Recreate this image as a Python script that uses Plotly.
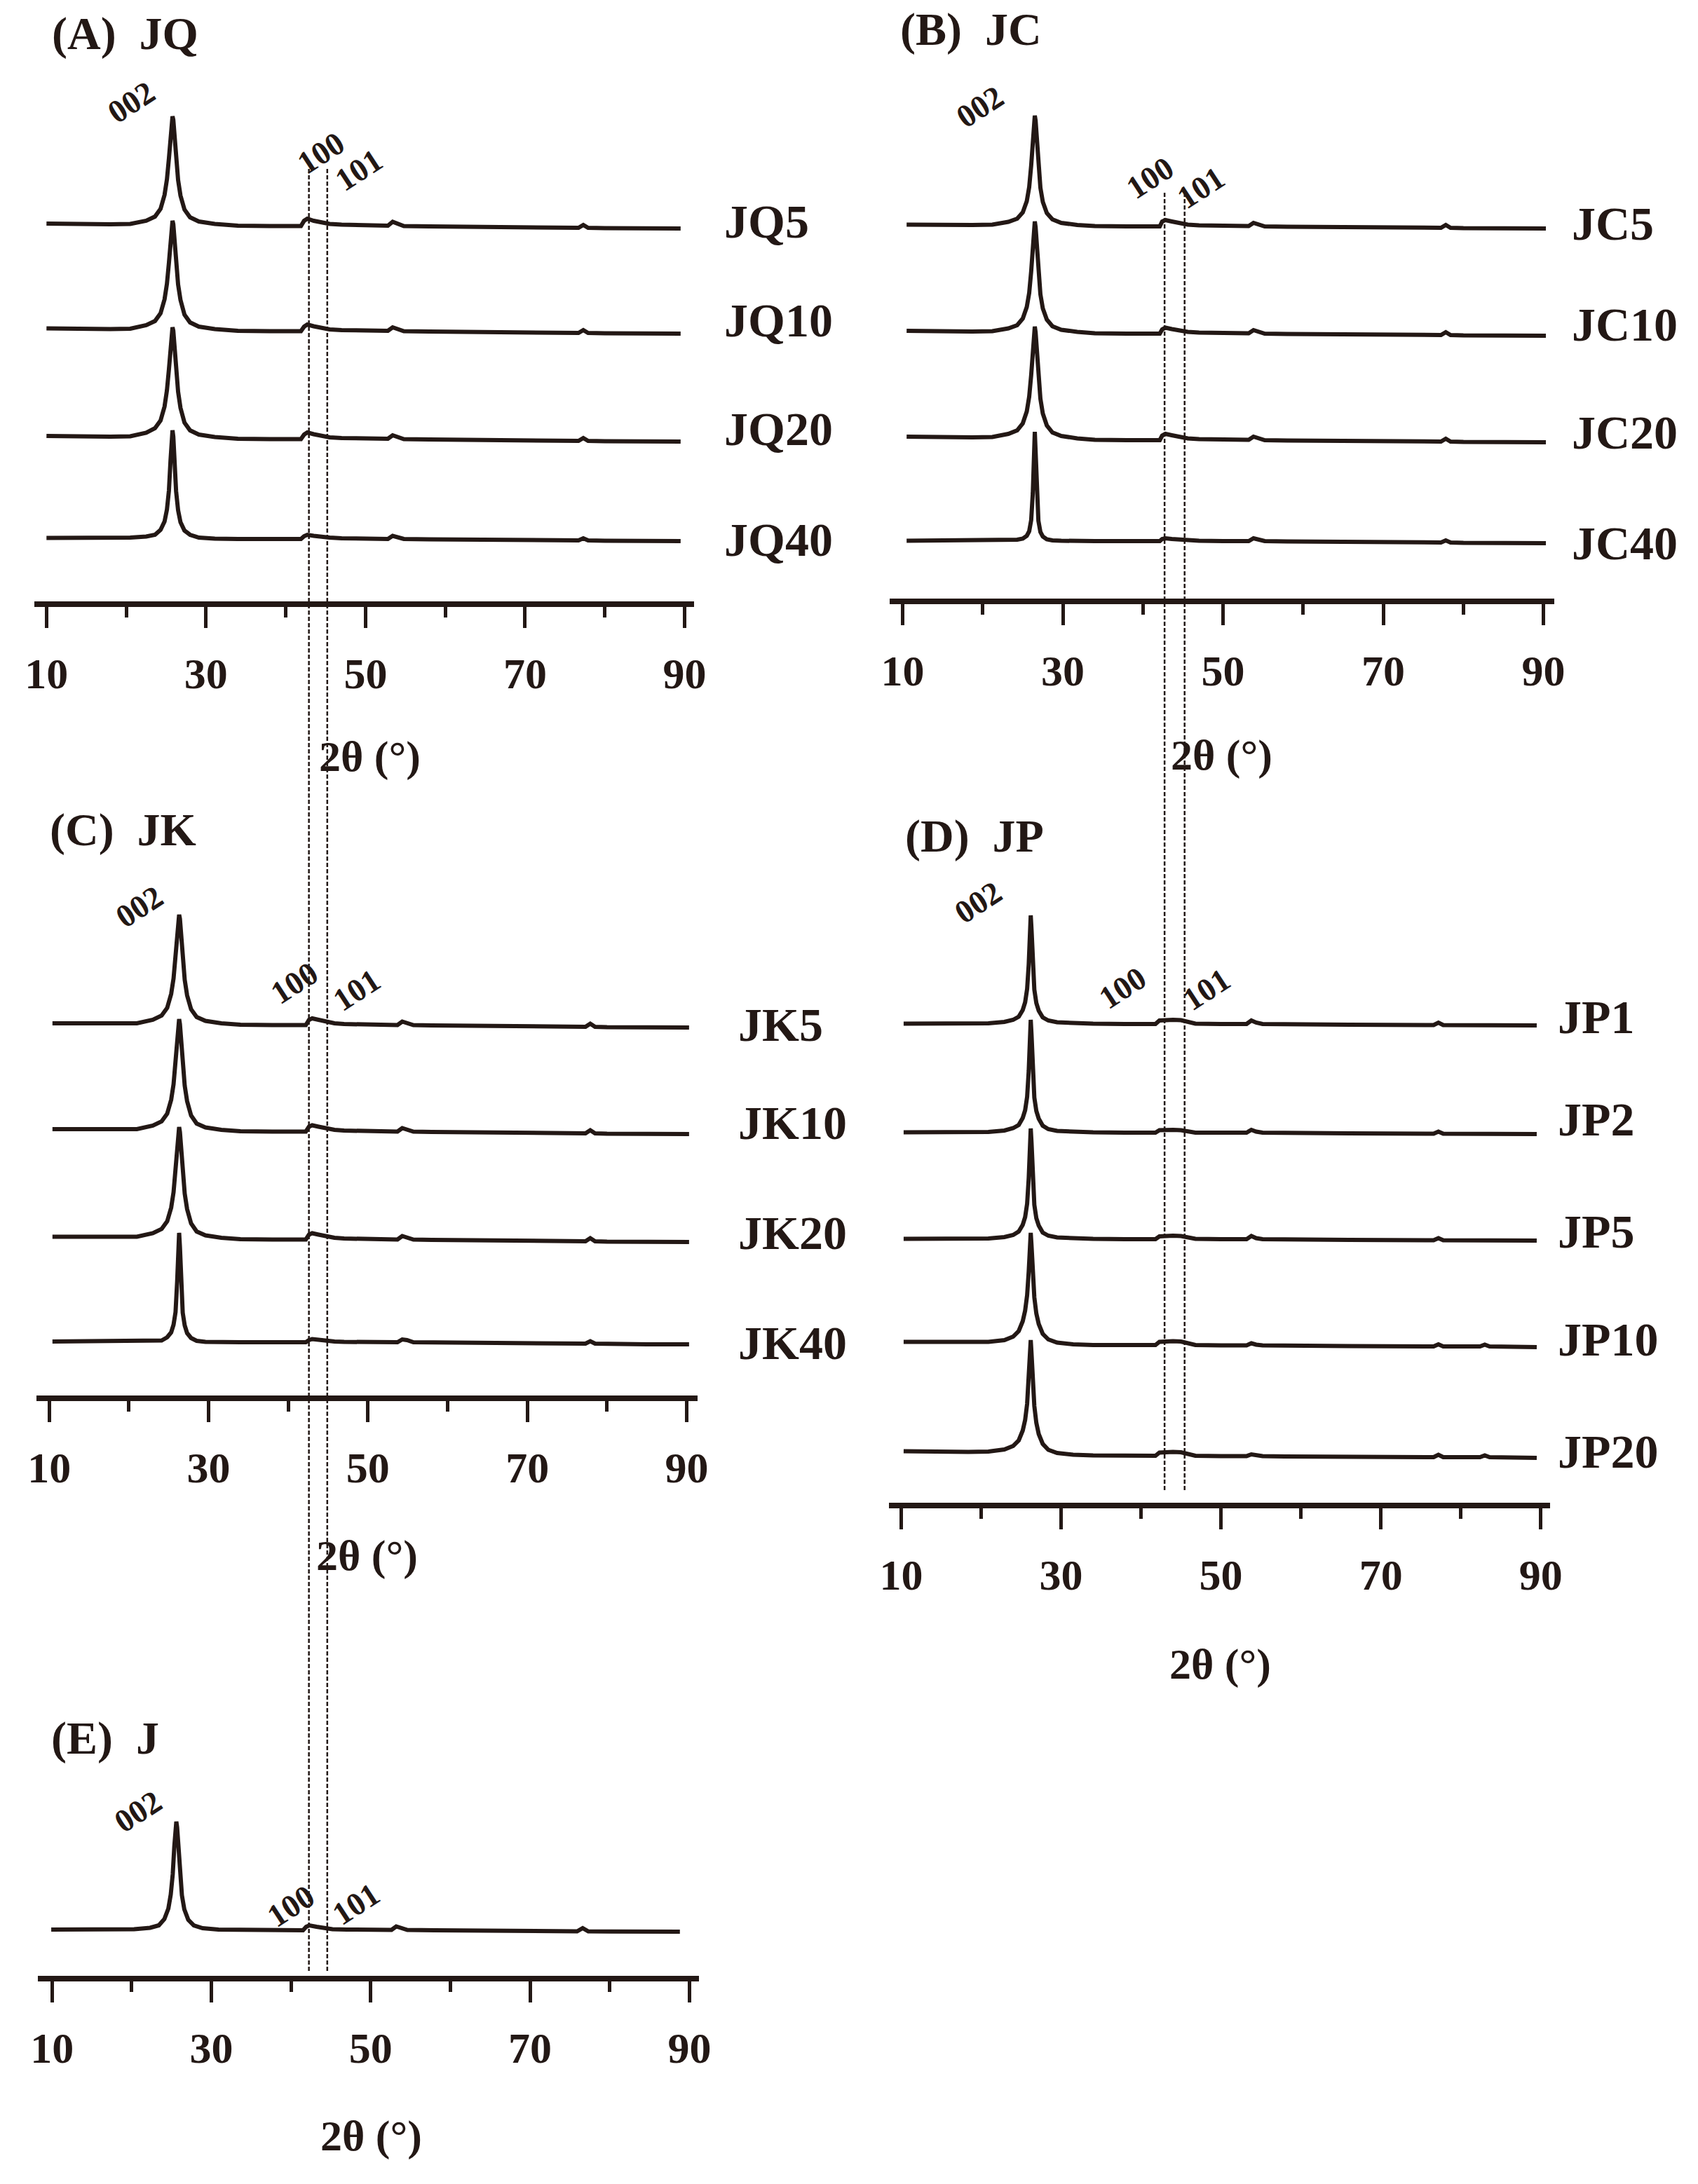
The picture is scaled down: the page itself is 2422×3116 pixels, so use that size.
import plotly.graph_objects as go

W, H = 2422, 3116

# ---- data: 2theta (deg) grids and intensities (a.u.) ----
tt_JQ = [10, 12, 15, 18, 20.5, 22.5, 23.6, 24.3, 24.8, 25.1, 25.35, 25.55, 25.7, 25.8, 25.9,
         26.05, 26.25, 26.5, 26.8, 27.3, 28.0, 29.1, 31.1, 34, 38, 41.9, 42.3, 42.7, 43.5, 44.5,
         45.5, 47, 50, 52.8, 53.4, 54.0, 54.8, 58, 66, 76.7, 77.3, 77.9, 80, 85, 89.5]
JQ5 = [7, 6.5, 6, 6, 6.5, 11, 17, 28, 48, 70, 100, 133, 155, 160, 155, 132, 99, 69, 47, 27,
       16, 10, 6.5, 4, 3.5, 3.5, 11, 14, 11, 8, 6.5, 5.5, 4.5, 4, 9.5, 7, 3.5, 3, 2, 1, 5, 1, 0.5, 0, 0]
JQ10 = [7.5, 7, 6.5, 6.5, 7, 12, 18, 29, 49, 71, 101, 134, 156, 161, 156, 133, 100, 70, 48, 27,
        16, 10, 6.5, 4, 3.5, 3.5, 10, 13, 10.5, 7.5, 6, 5, 4.5, 4, 9, 7, 3.5, 3, 2, 1, 5, 1, 0.5, 0, 0]
JQ20 = [8, 7.5, 7, 7, 7.5, 12.5, 19, 30, 50, 73, 103, 137, 158, 163, 158, 135, 102, 71, 48, 27,
        16, 10, 6.5, 4, 3.5, 3.5, 10, 13, 10.5, 7.5, 6, 5, 4.5, 4, 9, 7, 3.5, 3, 2, 1, 5, 1, 0.5, 0, 0]
JQ40 = [4.5, 4.5, 4.5, 4.5, 5, 6.5, 9, 16, 28, 45, 72, 115, 149, 158, 149, 114, 71, 44, 27, 15,
        9, 5, 3.5, 3, 3, 3, 7, 9, 7.5, 6, 5, 4, 3.5, 3, 7.5, 6, 3, 2.5, 1.5, 1, 4, 1, 0.5, 0, 0]

tt_JC = [10.5, 12.7, 15.7, 18.7, 21.2, 23.2, 24.3, 25.0, 25.5, 25.8, 26.05, 26.25, 26.4, 26.5, 26.6,
         26.75, 26.95, 27.2, 27.5, 28.0, 28.7, 29.8, 31.8, 34, 38, 42.1, 42.4, 42.8, 43.6, 44.6,
         45.6, 47, 50, 53.2, 53.8, 54.4, 55.2, 58, 66, 77.2, 77.8, 78.4, 80, 85, 90.3]
JC5 = [5.5, 5, 5, 5, 5.5, 9.5, 14, 23, 39, 59, 90, 126, 155, 161, 154, 125, 89, 58, 38, 22,
       13, 8, 5, 3.5, 3, 3, 10, 12, 10, 7, 5.5, 4.5, 4, 3.5, 8, 6, 3, 2.5, 2, 1, 5, 1, 0.5, 0, 0]
JC10 = [7, 6.5, 6, 6, 6.5, 10.5, 15, 24.5, 41, 61, 92, 127, 155, 163, 155, 126, 90, 59, 39, 23,
        13.5, 8.5, 5.5, 3.5, 3, 3, 9, 11.5, 9.5, 7, 5.5, 4.5, 4, 3.5, 8, 6, 3, 2.5, 2, 1, 5, 1, 0.5, 0, 0]
JC20 = [8, 7.5, 7, 7, 7.5, 12, 17, 27, 44, 65, 96, 131, 158, 165, 157, 129, 93, 62, 41, 24,
        14, 9, 5.5, 3.5, 3, 3, 9.5, 12, 10, 7.5, 5.5, 4.5, 4, 3.5, 8, 6, 3, 2.5, 2, 1, 5, 1, 0.5, 0, 0]
JC40 = [3.5, 3.5, 3.5, 3.5, 3.5, 4, 5, 6.5, 10.5, 17, 33, 71, 132, 159, 131, 70, 32, 16, 9.5, 5.5,
        4, 3.5, 3, 3, 3, 3, 6, 7, 6, 5, 4, 3.5, 3, 3, 7, 5.5, 3, 2.5, 2, 1, 4, 1, 0.5, 0, 0]

tt_JK = [10.4, 12.5, 15.5, 18.5, 21.0, 23.0, 24.1, 24.8, 25.3, 25.6, 25.85, 26.05, 26.2, 26.3, 26.4,
         26.55, 26.75, 27.0, 27.3, 27.8, 28.5, 29.6, 31.6, 34, 38, 42.2, 42.6, 43.0, 43.8, 44.8,
         45.8, 47, 50, 53.7, 54.3, 54.9, 55.7, 58, 66, 77.3, 77.9, 78.5, 80, 85, 90.3]
JK5 = [6, 6, 5.5, 5.5, 6, 11, 17, 28, 48, 70, 102, 134, 156, 161, 155, 133, 100, 68, 46, 26,
       15, 9.5, 6, 4, 3.5, 3.5, 11, 13, 11, 8, 6, 5, 4, 3.5, 8.5, 7, 3.5, 3, 2, 1, 5.5, 1, 0.5, 0, 0]
JK10 = [7, 7, 6.5, 6.5, 7, 12, 18, 29, 49, 71, 103, 136, 158, 164, 157, 134, 101, 69, 47, 26.5,
        15, 9.5, 6, 4, 3.5, 3.5, 10.5, 12.5, 10.5, 7.5, 6, 5, 4, 3.5, 8.5, 7, 3.5, 3, 2, 1, 5.5, 1, 0.5, 0, 0]
JK20 = [7.5, 7.5, 7, 7, 7.5, 12.5, 18.5, 29.5, 49, 71, 103, 136, 158, 164, 157, 134, 101, 69, 47, 26.5,
        15, 9.5, 6, 4, 3.5, 3.5, 10.5, 12.5, 10.5, 7.5, 6, 5, 4, 3.5, 8.5, 7, 3.5, 3, 2, 1, 5.5, 1, 0.5, 0, 0]
JK40 = [4, 4, 4, 4, 4, 4.5, 5.5, 10, 17, 28, 46, 89, 140, 159, 139, 88, 45, 27, 16, 9,
        5, 3.5, 3, 3, 3, 3, 6, 7.5, 6.5, 5, 4, 3.5, 3, 3, 7, 6, 3, 2.5, 2, 1, 4.5, 1, 0.5, 0, 0]

tt_JP = [10.3, 12.4, 15.4, 18.4, 20.9, 22.9, 24.0, 24.7, 25.2, 25.5, 25.75, 25.95, 26.1, 26.2, 26.3,
         26.45, 26.65, 26.9, 27.2, 27.7, 28.4, 29.5, 31.5, 34, 38, 41.8, 42.3, 43.0, 44.0, 45.0,
         45.6, 46.8, 50, 53.2, 53.8, 54.4, 55.2, 58, 66, 76.6, 77.2, 77.8, 82.4, 83.0, 83.6, 89.5]
JP1 = [2.5, 2.5, 2.5, 2.5, 3, 5, 8, 12.5, 22, 33, 52, 87, 138, 157, 137, 86, 51, 32, 21, 11.5,
       7, 4.5, 3, 2.5, 2, 2, 7, 8, 8, 7.5, 6, 2.5, 2, 2, 7, 4, 2, 1.5, 1, 0.5, 4, 0.5, 0.3, 0.3, 0.3, 0]
JP2 = [2.5, 2.5, 2.5, 2.5, 3, 5, 8.5, 13, 23, 34, 53, 90, 143, 163, 142, 89, 52, 33, 22, 12,
       7, 4.5, 3, 2.5, 2, 2, 5.5, 6, 6, 5.5, 4.5, 2, 2, 2, 6, 3.5, 2, 1.5, 1, 0.5, 3.5, 0.5, 0.3, 0.3, 0.3, 0]
JP5 = [2.5, 2.5, 2.5, 2.5, 3, 5, 8, 13, 22.5, 33.5, 52.5, 89, 141, 160, 140, 88, 51, 32, 21.5, 11.5,
       7, 4.5, 3, 2.5, 2, 2, 6, 7, 7, 6.5, 5, 2.5, 2, 2, 6.5, 3.5, 2, 1.5, 1, 0.5, 3.5, 0.5, 0.3, 0.3, 0.3, 0]
JP10 = [7.5, 7.5, 7, 7, 7.5, 10, 15, 23, 37, 52, 74, 108, 146, 163, 145, 106, 71, 48, 33, 19,
        11, 6.5, 4, 3, 3, 3, 7.5, 8.5, 8.5, 8, 6, 3, 2.5, 2.5, 5.5, 3.5, 2.5, 2, 1.5, 1, 4, 1, 1, 3.5, 1, 0]
JP20 = [9.5, 9, 8.5, 8.5, 9, 12, 17, 25, 39, 54, 77, 112, 151, 168, 149, 109, 74, 50, 34, 20,
        11.5, 7, 4.5, 3.5, 3, 3, 7.5, 8.5, 8.5, 8, 6, 3, 2.5, 2.5, 5, 3.5, 2.5, 2, 1.5, 1, 4.5, 1, 1, 3.5, 1, 0]

tt_J = [9.9, 11.8, 14.8, 17.8, 20.3, 22.3, 23.4, 24.1, 24.6, 24.9, 25.15, 25.35, 25.5, 25.6, 25.7,
        25.85, 26.05, 26.3, 26.6, 27.1, 27.8, 28.9, 30.9, 34, 38, 41.5, 41.9, 42.3, 43.2, 44.2,
        45.2, 47, 50, 52.6, 53.2, 53.8, 54.6, 58, 66, 75.9, 76.6, 77.3, 80, 85, 88.8]
J = [3, 3, 3, 3, 3.5, 5.5, 9, 18, 33, 53, 82, 122, 150, 157, 149, 121, 81, 52, 32, 17,
     9, 5, 3, 2.5, 2, 2, 7, 9, 7, 5, 3.5, 3, 2.5, 2.5, 7.5, 6, 2.5, 2, 1.5, 0.5, 5, 0.5, 0.3, 0, 0]

tick_vals = [10, 30, 50, 70, 90]
minor_vals = [20, 40, 60, 80]
hkl_lines_left = [42.9, 45.2]    # 100 / 101 reference lines, 2theta on panel A scale
hkl_lines_right = [42.7, 45.2]   # same, on panel B scale

INK = "#231815"
FONT = "Liberation Serif"

# ---- panel geometry in page pixels ----
panels = [
    dict(title="(A)\u00a0\u00a0JQ", tpos=(60, 48), line=(36, 990), t10=54, t90=976, axis_y=858,
         tt=tt_JQ, curves=[("JQ5", JQ5, 532, 316), ("JQ10", JQ10, 382, 457),
                           ("JQ20", JQ20, 228, 612), ("JQ40", JQ40, 86, 770)], lab_x=1031,
         hkl=[("002", 177, 146), ("100", 450, 218), ("101", 505, 242)], ttl=(521, 1079)),
    dict(title="(B)\u00a0\u00a0JC", tpos=(1285, 42), line=(1272, 2233), t10=1291, t90=2217, axis_y=854,
         tt=tt_JC, curves=[("JC5", JC5, 528, 319), ("JC10", JC10, 375, 463),
                           ("JC20", JC20, 223, 617), ("JC40", JC40, 79, 775)], lab_x=2256,
         hkl=[("002", 1402, 152), ("100", 1649, 254), ("101", 1722, 267)], ttl=(1752, 1077)),
    dict(title="(C)\u00a0\u00a0JK", tpos=(57, 1184), line=(40, 995), t10=58, t90=979, axis_y=1991,
         tt=tt_JK, curves=[("JK5", JK5, 525, 1462), ("JK10", JK10, 373, 1602),
                           ("JK20", JK20, 219, 1759), ("JK40", JK40, 73, 1916)], lab_x=1051,
         hkl=[("002", 188, 1293), ("100", 412, 1402), ("101", 502, 1412)], ttl=(517, 2219)),
    dict(title="(D)\u00a0\u00a0JP", tpos=(1293, 1193), line=(1271, 2226), t10=1289, t90=2213, axis_y=2144,
         tt=tt_JP, curves=[("JP1", JP1, 681, 1451), ("JP2", JP2, 526, 1597), ("JP5", JP5, 374, 1757),
                           ("JP10", JP10, 222, 1911), ("JP20", JP20, 64, 2071)], lab_x=2236,
         hkl=[("002", 1400, 1288), ("100", 1609, 1410), ("101", 1730, 1411)], ttl=(1750, 2374)),
    dict(title="(E)\u00a0\u00a0J", tpos=(59, 2480), line=(42, 997), t10=62, t90=983, axis_y=2819,
         tt=tt_J, curves=[("J", J, 63, None)], lab_x=None,
         hkl=[("002", 186, 2584), ("100", 407, 2719), ("101", 501, 2716)], ttl=(523, 3047)),
]


def px_x(x):
    return x / W


def px_y(y):
    return 1 - y / H


fig = go.Figure()
annotations = []
layout = {}

for i, p in enumerate(panels):
    n = "" if i == 0 else str(i + 1)
    R = min(950, p["axis_y"])  # y extent of the panel in px (1 a.u. = 1 px)
    ppd = (p["t90"] - p["t10"]) / 80.0
    lo = 10 - (p["t10"] - p["line"][0]) / ppd
    hi = 90 + (p["line"][1] - p["t90"]) / ppd

    for name, vals, off, ly in p["curves"]:
        fig.add_trace(go.Scatter(
            x=p["tt"], y=[v + off for v in vals], mode="lines", name=name,
            line=dict(color=INK, width=6),
            xaxis="x" + n, yaxis="y" + n, hoverinfo="skip"))
        if ly is not None:
            annotations.append(dict(
                text=name, x=px_x(p["lab_x"]), y=px_y(ly), xref="paper", yref="paper",
                xanchor="left", yanchor="middle", showarrow=False,
                font=dict(family=FONT, size=68, color=INK, weight="bold")))

    layout["xaxis" + n] = dict(
        domain=[px_x(p["line"][0]), px_x(p["line"][1])], range=[lo, hi],
        anchor="y" + n, showline=True, linewidth=8, linecolor=INK,
        showgrid=False, zeroline=False, ticks="outside", ticklen=30, tickwidth=5,
        tickcolor=INK, tickmode="array", tickvals=tick_vals,
        ticklabelstandoff=12,
        tickfont=dict(family=FONT, size=62, color=INK, weight="bold"),
        minor=dict(tickmode="array", tickvals=minor_vals, ticks="outside",
                   ticklen=15, tickwidth=5, tickcolor=INK, showgrid=False),
    )
    layout["yaxis" + n] = dict(
        domain=[px_y(p["axis_y"]), px_y(p["axis_y"] - R)], range=[0, R],
        anchor="x" + n, visible=False, showgrid=False, zeroline=False)

    annotations.append(dict(
        text=p["title"], x=px_x(p["tpos"][0]), y=px_y(p["tpos"][1]), xref="paper", yref="paper",
        xanchor="left", yanchor="middle", showarrow=False,
        font=dict(family=FONT, size=66, color=INK, weight="bold")))
    annotations.append(dict(
        text="2\u03b8 (\u00b0)", x=px_x(p["ttl"][0]), y=px_y(p["ttl"][1]),
        xref="paper", yref="paper", xanchor="center", yanchor="middle", showarrow=False,
        font=dict(family=FONT, size=62, color=INK, weight="bold")))
    for lab, hx, hy in p["hkl"]:
        annotations.append(dict(
            text=lab, x=px_x(hx), y=px_y(hy), xref="paper", yref="paper",
            xanchor="center", yanchor="middle", showarrow=False, textangle=-33,
            font=dict(family=FONT, size=46, color=INK, weight="bold")))

# dashed 100 / 101 reference lines running down each column
shapes = []
for v in hkl_lines_left:
    shapes.append(dict(type="line", xref="x", yref="paper", x0=v, x1=v,
                       y0=px_y(2812), y1=px_y(240),
                       line=dict(color=INK, width=2.5, dash="6px,3px")))
for v in hkl_lines_right:
    shapes.append(dict(type="line", xref="x2", yref="paper", x0=v, x1=v,
                       y0=px_y(2126), y1=px_y(272),
                       line=dict(color=INK, width=2.5, dash="6px,3px")))

fig.update_layout(
    width=W, height=H, margin=dict(l=0, r=0, t=0, b=0),
    paper_bgcolor="white", plot_bgcolor="rgba(0,0,0,0)",
    showlegend=False, annotations=annotations, shapes=shapes, **layout)

fig.write_html("out.html", config={"displayModeBar": False},
               post_script="document.body.style.margin='0';"
                           "document.documentElement.style.overflow='hidden';")
